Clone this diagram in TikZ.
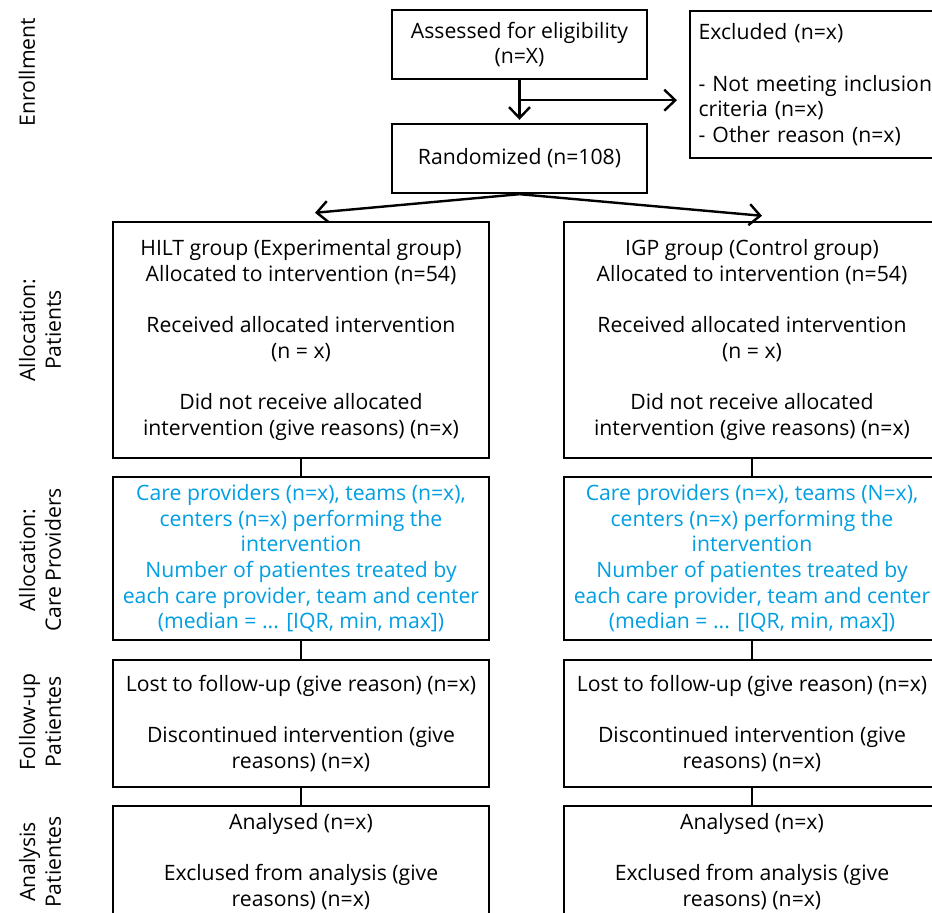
\documentclass[tikz,border=0pt]{standalone}
\usepackage{fontspec}
\setmainfont{Open Sans}
\usetikzlibrary{arrows.meta}
\usetikzlibrary{positioning}
\definecolor{provblue}{RGB}{0,158,226}
\tikzset{flowbox/.style = {draw, line width=1.2pt, align=center, inner sep=0pt,
                           minimum width=188pt}}
\tikzset{flowarrow/.style = {line width=1.2pt,
                             -{Straight Barb[length=5.5pt,width=10.5pt,line width=1.2pt]}}}
\tikzset{joinline/.style = {line width=1.2pt}}
\tikzset{phase/.style = {rotate=90, align=center}}

\begin{document}
\begin{tikzpicture}[x=0.5pt, y=-0.5pt, font=\fontsize{10.6}{12.85}\selectfont]
      \clip (0,0) rectangle (932,913);
      % enrollment
      \node [flowbox, minimum width=127.5pt, minimum height=34.5pt] (assessed) at (519.5,44.5)
            {Assessed for eligibility\\(n=X)};
      \node [flowbox, minimum width=127.5pt, minimum height=34.5pt] (random) at (519.5,158.5)
            {Randomized (n=108)};
      \node [draw, line width=1.2pt, align=left, anchor=north west, text width=131pt,
             inner xsep=4.2pt, inner ysep=0pt, minimum height=73.5pt] (excluded) at (689,10)
            {Excluded (n=x)\\[12.85pt]- Not meeting inclusion\\criteria (n=x)\\- Other reason (n=x)};
      % allocation: patients
      \node [flowbox, minimum height=118pt] (hilt) at (301,340)
            {HILT group (Experimental group)\\Allocated to intervention (n=54)\\[12.85pt]
             Received allocated intervention\\(n = x)\\[12.85pt]
             Did not receive allocated\\intervention (give reasons) (n=x)};
      \node [flowbox, minimum height=118pt] (igp) at (752,340)
            {IGP group (Control group)\\Allocated to intervention (n=54)\\[12.85pt]
             Received allocated intervention\\(n = x)\\[12.85pt]
             Did not receive allocated\\intervention (give reasons) (n=x)};
      % allocation: care providers
      \node [flowbox, minimum height=81.5pt, text=provblue] (hiltcare) at (301,558.5)
            {Care providers (n=x), teams (n=x),\\centers (n=x) performing the\\intervention\\
             Number of patientes treated by\\each care provider, team and center\\(median = ... [IQR, min, max])};
      \node [flowbox, minimum height=81.5pt, text=provblue] (igpcare) at (752,558.5)
            {Care providers (n=x), teams (N=x),\\centers (n=x) performing the\\intervention\\
             Number of patientes treated by\\each care provider, team and center\\(median = ... [IQR, min, max])};
      % follow-up
      \node [flowbox, minimum height=63.5pt] (hiltfollow) at (301,723.5)
            {Lost to follow-up (give reason) (n=x)\\[12.85pt]Discontinued intervention (give\\reasons) (n=x)};
      \node [flowbox, minimum height=63.5pt] (igpfollow) at (752,723.5)
            {Lost to follow-up (give reason) (n=x)\\[12.85pt]Discontinued intervention (give\\reasons) (n=x)};
      % analysis
      \node [flowbox, minimum height=55.5pt] (hiltanalysis) at (301,861.5)
            {Analysed (n=x)\\[12.85pt]Exclused from analysis (give\\reasons) (n=x)};
      \node [flowbox, minimum height=55.5pt] (igpanalysis) at (752,861.5)
            {Analysed (n=x)\\[12.85pt]Exclused from analysis (give\\reasons) (n=x)};
      % phase labels
      \node [phase] (enrolment) at (27,72) {Enrollment};
      \node [phase] (allocpat) at (40,330) {Allocation:\\Patients};
      \node [phase] (allocprov) at (40,560) {Allocation:\\Care Providers};
      \node [phase] (followpat) at (40,722) {Follow-up\\Patientes};
      \node [phase] (analysispat) at (40,862) {Analysis\\Patientes};
      % connectors
      \path (assessed.south) -- (random.north) coordinate [pos=0.47] (split);
      \draw [flowarrow, shorten >=1.5pt] (assessed) -- (random);
      \draw [flowarrow, shorten >=6pt] (split) -- (split -| excluded.west);
      \draw [flowarrow] (random.south) -- ([xshift=7pt,yshift=4pt]hilt.north);
      \draw [flowarrow] (random.south) -- ([xshift=5pt,yshift=2.5pt]igp.north);
      \draw [joinline] (hilt) -- (hiltcare);
      \draw [joinline] (hiltcare) -- (hiltfollow);
      \draw [joinline] (hiltfollow) -- (hiltanalysis);
      \draw [joinline] (igp) -- (igpcare);
      \draw [joinline] (igpcare) -- (igpfollow);
      \draw [joinline] (igpfollow) -- (igpanalysis);
    \end{tikzpicture}
\end{document}
